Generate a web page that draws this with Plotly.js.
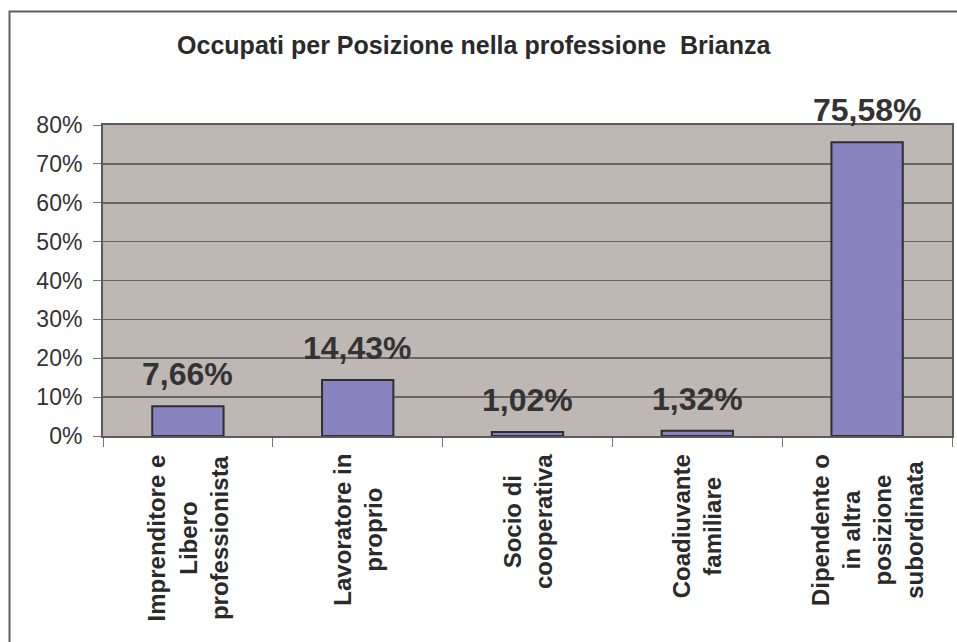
<!DOCTYPE html>
<html>
<head>
<meta charset="utf-8">
<script src="https://cdn.plot.ly/plotly-3.0.1.min.js"></script>
<style>
  html, body { margin: 0; padding: 0; background: #ffffff; }
  #chart { width: 957px; height: 642px; }
</style>
</head>
<body>
<div id="chart"></div>
<script>
// ---- data ----
const categories = [
  "Imprenditore e<br>Libero<br>professionista",
  "Lavoratore in<br>proprio",
  "Socio di<br>cooperativa",
  "Coadiuvante<br>familiare",
  "Dipendente o<br>in altra<br>posizione<br>subordinata"
];
const catKeys = ["imp", "lav", "soc", "coa", "dip"];
const values = [7.66, 14.43, 1.02, 1.32, 75.58];   // percent
const yTicks = [0, 10, 20, 30, 40, 50, 60, 70, 80];
const titleText = "Occupati per Posizione nella professione  Brianza";

const FONT = "Liberation Sans, Arial, sans-serif";

const fmt = v => v.toFixed(2).replace(".", ",") + "%";

const trace = {
  type: "bar",
  x: catKeys,
  y: values,
  marker: { color: "#8983BF", line: { color: "#2E2E33", width: 2 } },
  hoverinfo: "none"
};

const annotations = [];
// value labels above bars
catKeys.forEach((k, i) => {
  annotations.push({
    x: k, y: values[i], xref: "x", yref: "y",
    text: fmt(values[i]), showarrow: false,
    xanchor: "center", yanchor: "bottom", yshift: 12,
    font: { family: FONT, size: 32, color: "#333333", weight: "bold" }
  });
});
// category labels (rotated)
catKeys.forEach((k, i) => {
  annotations.push({
    x: k, y: 0, xref: "x", yref: "paper",
    text: categories[i], showarrow: false, textangle: -90,
    align: "center", xanchor: "center", yanchor: "top", yshift: -16,
    font: { family: FONT, size: 24, color: "#2a2a2a", weight: "bold" }
  });
});

const layout = {
  width: 957, height: 642,
  margin: { l: 103, r: 5, t: 125, b: 206 },
  paper_bgcolor: "#ffffff",
  plot_bgcolor: "#BFB7B4",
  showlegend: false,
  bargap: 0.58,
  title: {
    text: titleText,
    x: 0.495, xanchor: "center",
    y: 0.929, yanchor: "middle", yref: "container",
    font: { family: FONT, size: 25, color: "#2a2a2a", weight: "bold" }
  },
  xaxis: {
    type: "category",
    range: [-0.5, 4.5],
    showticklabels: false,
    tickson: "boundaries",
    ticks: "outside", ticklen: 9, tickwidth: 1, tickcolor: "#777777",
    showline: true, linecolor: "#5a5a5a", linewidth: 2,
    mirror: true,
    showgrid: false, zeroline: false, fixedrange: true
  },
  yaxis: {
    range: [0, 80],
    tickvals: yTicks,
    ticktext: yTicks.map(t => t + "%"),
    ticks: "outside", ticklen: 8, tickwidth: 1, tickcolor: "#777777",
    ticklabelstandoff: 6,
    tickfont: { family: FONT, size: 23, color: "#333333" },
    showline: true, linecolor: "#5a5a5a", linewidth: 2,
    mirror: true,
    showgrid: true, gridcolor: "#666666", gridwidth: 1.7,
    zeroline: false, fixedrange: true
  },
  annotations: annotations,
  shapes: [{
    type: "rect", xref: "paper", yref: "paper",
    x0: -0.1101, x1: 1.3, y0: -1.2, y1: 1.365,
    line: { color: "#5f5f5f", width: 2 },
    fillcolor: "rgba(0,0,0,0)", layer: "above"
  }]
};

Plotly.newPlot("chart", [trace], layout, { displayModeBar: false, staticPlot: true });
</script>
</body>
</html>
